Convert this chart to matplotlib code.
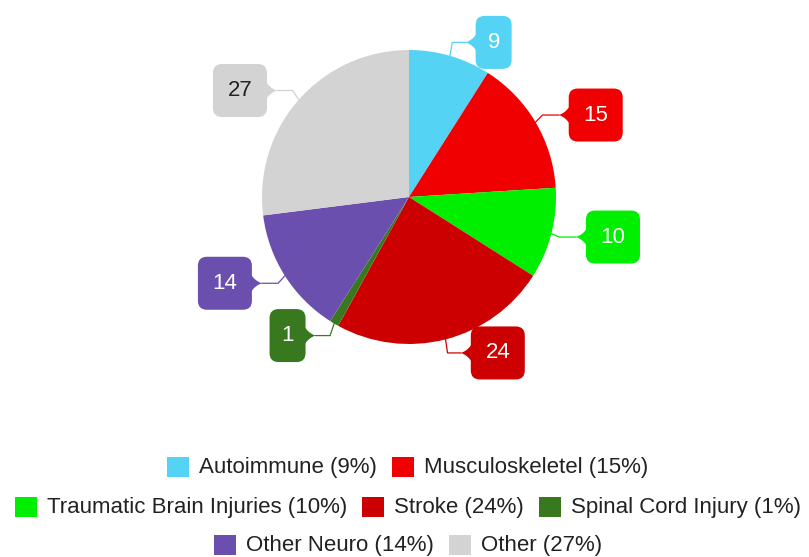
import matplotlib
matplotlib.use("Agg")
import numpy as np
import matplotlib.pyplot as plt
from matplotlib.patches import FancyBboxPatch, Polygon, Rectangle

# data
categories = ["Autoimmune", "Musculoskeletel", "Traumatic Brain Injuries",
              "Stroke", "Spinal Cord Injury", "Other Neuro", "Other"]
values = [9, 15, 10, 24, 1, 14, 27]
colors = ["#55d3f5", "#f00000", "#00ee00", "#cc0000", "#38781f", "#6a4fae", "#d3d3d3"]
text_colors = ["white", "white", "white", "white", "white", "white", "#222222"]
legend_rows = [[0, 1], [2, 3, 4], [5, 6]]

plt.rcParams['font.family'] = ['Liberation Sans', 'DejaVu Sans']

W, H = 809, 557
fig = plt.figure(figsize=(W / 100, H / 100), dpi=100)
ax = fig.add_axes([0, 0, 1, 1])

# pie, in pixel units (y measured from bottom)
cx, cy, R = 409, H - 197, 147
wedges, _ = ax.pie(values, colors=colors, startangle=90, counterclock=False,
                   center=(cx, cy), radius=R, frame=True,
                   wedgeprops=dict(linewidth=0))
ax.set_xlim(0, W)
ax.set_ylim(0, H)
ax.set_aspect('auto')
ax.axis('off')


def pointer(near_x, tip_x, y, sign):
    # flared notch joining the callout box to its leader line
    t = np.linspace(0, 1, 12)[:, None]
    A = np.array([near_x + sign * 3, y + 13])
    C = np.array([near_x - sign * 1, y + 3])
    B = np.array([tip_x, y])
    top = (1 - t) ** 2 * A + 2 * (1 - t) * t * C + t ** 2 * B
    bottom = top[::-1].copy()
    bottom[:, 1] = 2 * y - bottom[:, 1]
    return np.vstack([top, bottom[1:]])


# callout boxes
for w, v, col, tcol in zip(wedges, values, colors, text_colors):
    th = np.deg2rad((w.theta1 + w.theta2) / 2)
    c, s = np.cos(th), np.sin(th)
    ex, ey = cx + R * c, cy + R * s
    sign = 1 if c >= 0 else -1
    bw = 36 if v < 10 else 54
    bh = 53
    gap = 22 + 13 * abs(c)
    by = ey + 14 * s
    near_x = ex + sign * gap
    tip_x = near_x - sign * 10
    bx = near_x + sign * bw / 2
    elbow = (ex + c * 8, by)
    ax.plot([ex, elbow[0], tip_x], [ey, elbow[1], by], color=col, lw=0.9,
            solid_joinstyle='miter')
    ax.add_patch(Polygon(pointer(near_x, tip_x, by, sign), closed=True,
                         fc=col, ec='none'))
    ax.add_patch(FancyBboxPatch((bx - bw / 2, by - bh / 2), bw, bh,
                                boxstyle="round,pad=0,rounding_size=9",
                                fc=col, ec='none'))
    ax.text(bx, by, str(v), ha='center', va='center', fontsize=16, color=tcol)

# legend drawn by hand, three centred rows
total = sum(values)
renderer = fig.canvas.get_renderer()
row_y = [H - 467, H - 507, H - 545]
sq_w, sq_h, sq_gap, item_gap = 22, 20, 10, 15
for row, y in zip(legend_rows, row_y):
    texts = []
    for i in row:
        t = ax.text(0, y, f"{categories[i]} ({round(100 * values[i] / total)}%)",
                    ha='left', va='center', fontsize=16, color='#222222')
        texts.append(t)
    widths = [t.get_window_extent(renderer).width for t in texts]
    row_w = sum(sq_w + sq_gap + tw for tw in widths) + item_gap * (len(row) - 1)
    x = 408 - row_w / 2
    for i, t, tw in zip(row, texts, widths):
        ax.add_patch(Rectangle((x, y - sq_h / 2), sq_w, sq_h, fc=colors[i], ec='none'))
        t.set_x(x + sq_w + sq_gap)
        x += sq_w + sq_gap + tw + item_gap

fig.savefig("out.png", dpi=100)
